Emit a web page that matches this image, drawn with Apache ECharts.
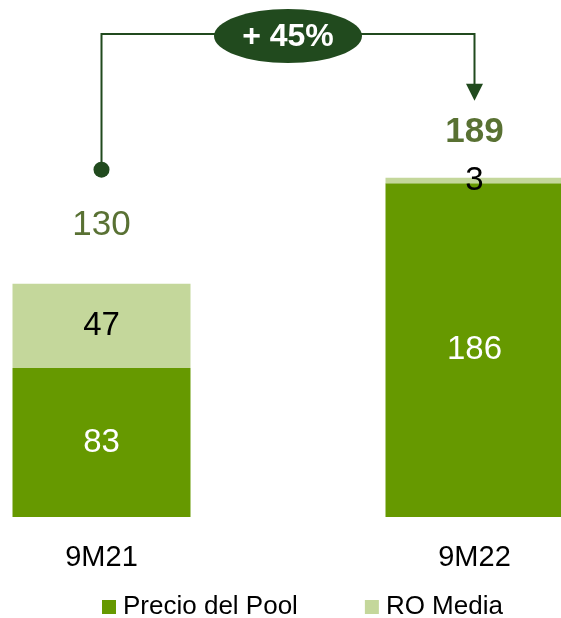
<!DOCTYPE html>
<html>
<head>
<meta charset="utf-8">
<script src="https://cdn.jsdelivr.net/npm/echarts@6/dist/echarts.min.js"></script>
<style>
  html, body { margin: 0; padding: 0; background: #ffffff; }
  #chart { width: 561px; height: 618px; }
</style>
</head>
<body>
<div id="chart"></div>
<script>
// Periods and the two stacked components (€/MWh)
const categories = ['9M21', '9M22'];
const poolPrice = [83, 186];
const roMedia = [47, 3];
const totals = [130, 189];
const growthLabel = '+ 45%';
const seriesNames = ['Precio del Pool', 'RO Media'];

const DARK = '#669900';
const LIGHT = '#c4d79b';
const ACCENT = '#214a1e';
const TOTAL_TXT = '#2f4d00';
const FONT = 'Arial, "Liberation Sans", sans-serif';

const chart = echarts.init(document.getElementById('chart'), null, { renderer: 'canvas' });

chart.setOption({
  animation: false,
  backgroundColor: '#ffffff',
  grid: { left: -85, width: 746, top: 158, bottom: 101, containLabel: false, outerBoundsMode: 'none' },
  legend: {
    data: seriesNames,
    left: 102,
    top: 594,
    padding: 0,
    itemWidth: 14,
    itemHeight: 14,
    itemGap: 67,
    icon: 'rect',
    textStyle: { fontFamily: FONT, fontSize: 26, color: '#000', lineHeight: 26, padding: [0, 0, 0, 2] }
  },
  xAxis: {
    type: 'category',
    data: categories,
    axisLine: { show: false },
    axisTick: { show: false },
    axisLabel: { fontFamily: FONT, fontSize: 29, color: '#000', margin: 26, lineHeight: 29 }
  },
  yAxis: {
    type: 'value',
    min: 0,
    max: 200,
    show: false,
    splitLine: { show: false }
  },
  series: [
    {
      name: seriesNames[0],
      type: 'bar',
      stack: 'total',
      barWidth: 178,
      data: poolPrice,
      itemStyle: { color: DARK },
      label: { show: true, position: 'inside', color: '#fff', fontFamily: FONT, fontSize: 33 }
    },
    {
      name: seriesNames[1],
      type: 'bar',
      stack: 'total',
      barWidth: 178,
      data: roMedia,
      itemStyle: { color: LIGHT },
      label: { show: true, position: 'inside', color: '#000', fontFamily: FONT, fontSize: 33 }
    },
    {
      name: 'Total',
      type: 'scatter',
      symbolSize: 1,
      itemStyle: { color: 'transparent' },
      silent: true,
      data: [
        { value: totals[0], label: { distance: 40, fontWeight: 'normal' } },
        { value: totals[1], label: { distance: 27, fontWeight: 'bold' } }
      ],
      label: { show: true, position: 'top', color: TOTAL_TXT, fontFamily: FONT, fontSize: 35 }
    }
  ]
});

// Growth bracket from the first total to the second, with the percentage badge
function drawBracket() {
  const xa = chart.convertToPixel({ xAxisIndex: 0 }, 0);
  const xb = chart.convertToPixel({ xAxisIndex: 0 }, 1);
  const topA = chart.convertToPixel({ yAxisIndex: 0 }, totals[0]);
  const topB = chart.convertToPixel({ yAxisIndex: 0 }, totals[1]);
  const dotY = topA - 114;
  const tipY = topB - 77;
  const lineY = 34;
  const cx = (xa + xb) / 2;
  const lw = 2;
  chart.setOption({
    graphic: [
      { type: 'polyline', silent: true, shape: { points: [[xa, dotY], [xa, lineY], [xb, lineY], [xb, tipY - 16]] },
        style: { stroke: ACCENT, lineWidth: lw, fill: null } },
      { type: 'circle', silent: true, shape: { cx: xa, cy: dotY, r: 8 }, style: { fill: ACCENT } },
      { type: 'polygon', silent: true, shape: { points: [[xb - 8.5, tipY - 17], [xb + 8.5, tipY - 17], [xb, tipY]] },
        style: { fill: ACCENT } },
      { type: 'ellipse', silent: true, shape: { cx: cx, cy: 36, rx: 74, ry: 27 }, style: { fill: ACCENT } },
      { type: 'text', silent: true, x: cx, y: 37,
        style: { text: growthLabel, fill: '#fff', font: 'bold 32px ' + FONT, align: 'center', verticalAlign: 'middle' } }
    ]
  });
}
drawBracket();
</script>
</body>
</html>
